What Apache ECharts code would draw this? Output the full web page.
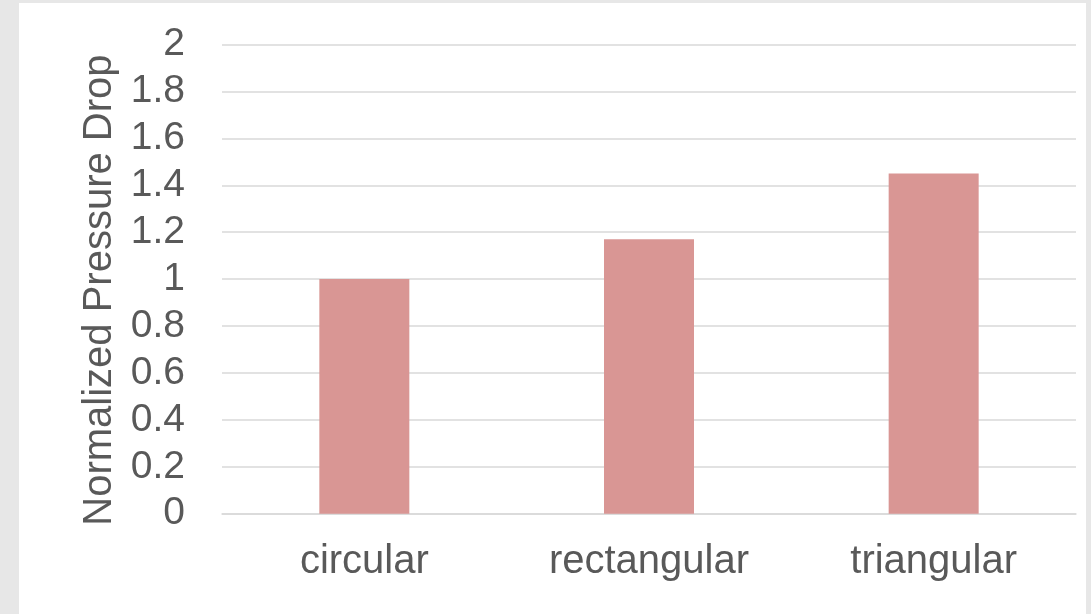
<!DOCTYPE html>
<html>
<head>
<meta charset="utf-8">
<script src="https://cdn.jsdelivr.net/npm/echarts@6/dist/echarts.min.js"></script>
<style>
  html, body { margin: 0; padding: 0; background: #e7e7e7; }
  body { width: 1091px; height: 614px; position: relative; overflow: hidden; }
  #chart { position: absolute; left: 19px; top: 3px; width: 1067px; height: 611px; background: #ffffff; }
</style>
</head>
<body>
<div id="chart"></div>
<script>
// Channel cross-section shapes and their pressure drop relative to the circular channel
const categories = ['circular', 'rectangular', 'triangular'];
const pressureDrop = [1.0, 1.17, 1.45];
const yTicks = [0, 0.2, 0.4, 0.6, 0.8, 1, 1.2, 1.4, 1.6, 1.8, 2];
const axisTitle = 'Normalized Pressure Drop';

const textColor = '#595959';
const font = '"Liberation Sans", Arial, sans-serif';

const chart = echarts.init(document.getElementById('chart'), null, { renderer: 'canvas' });
chart.setOption({
  animation: false,
  grid: { left: 203, right: 10, top: 41.5, bottom: 100.3, containLabel: false },
  xAxis: {
    type: 'category',
    data: categories,
    axisLine: { show: true, lineStyle: { color: '#d9d9d9', width: 1.5 } },
    axisTick: { show: false },
    axisLabel: { color: textColor, fontFamily: font, fontSize: 40, margin: 28 }
  },
  yAxis: {
    type: 'value',
    min: yTicks[0],
    max: yTicks[yTicks.length - 1],
    interval: 0.2,
    name: axisTitle,
    nameLocation: 'middle',
    nameGap: 102,
    nameRotate: 90,
    nameTextStyle: { color: textColor, fontFamily: font, fontSize: 40, padding: [0, 22, 0, 0] },
    axisLine: { show: false },
    axisTick: { show: false },
    splitLine: { lineStyle: { color: '#d9d9d9', width: 1.5 } },
    axisLabel: {
      color: textColor, fontFamily: font, fontSize: 39, margin: 37,
      padding: [4, 0, 0, 0],
      formatter: v => String(Math.round(v * 10) / 10)
    }
  },
  series: [{
    type: 'bar',
    data: pressureDrop,
    barWidth: 90,
    itemStyle: { color: '#d99694' }
  }]
});
</script>
</body>
</html>
